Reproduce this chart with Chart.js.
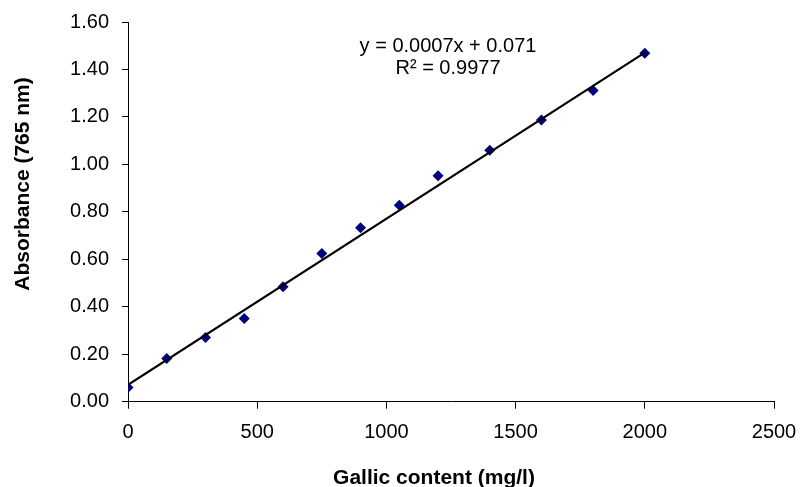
<!DOCTYPE html>
<html>
<head>
<meta charset="utf-8">
<title>Gallic acid calibration</title>
<script src="https://cdn.jsdelivr.net/npm/chart.js@4/dist/chart.umd.min.js"></script>
<style>
    html, body { margin: 0; padding: 0; background: #fff; }
    #wrap { width: 801px; height: 487px; }
</style>
</head>
<body>
<div id="wrap"><canvas id="calibChart" width="801" height="487"></canvas></div>
<script>
// Standard concentrations (mg/l) and measured absorbance at 765 nm
const concentrations = [0, 150, 300, 450, 600, 750, 900, 1050, 1200, 1400, 1600, 1800, 2000];
const absorbance = [0.060, 0.182, 0.271, 0.351, 0.484, 0.625, 0.733, 0.828, 0.952, 1.060, 1.187, 1.311, 1.468];

// Linear fit as reported on the chart
const slope = 0.0007;
const intercept = 0.071;
const rSquared = 0.9977;

const xTicks = [0, 500, 1000, 1500, 2000, 2500];
const yTicks = [0, 0.2, 0.4, 0.6, 0.8, 1.0, 1.2, 1.4, 1.6];

const xTitle = 'Gallic content (mg/l)';
const yTitle = 'Absorbance (765 nm)';

const FONT = 'Arial, "Liberation Sans", sans-serif';

const points = concentrations.map((c, i) => ({ x: c, y: absorbance[i] }));
const xFirst = concentrations[0];
const xLast = concentrations[concentrations.length - 1];
const trend = [
    { x: xFirst, y: slope * xFirst + intercept },
    { x: xLast, y: slope * xLast + intercept }
];

// Axis titles and the regression label, drawn relative to the chart area
const annotations = {
    id: 'annotations',
    afterDraw(chart) {
        const ctx = chart.ctx;
        const area = chart.chartArea;
        ctx.save();
        ctx.fillStyle = '#000';

        ctx.font = '20px ' + FONT;
        ctx.textAlign = 'center';
        ctx.textBaseline = 'middle';
        ctx.fillText('y = ' + slope + 'x + ' + intercept, area.left + 320, area.top + 24);
        ctx.fillText('R² = ' + rSquared, area.left + 320, area.top + 46);

        ctx.font = 'bold 21px ' + FONT;
        ctx.textBaseline = 'alphabetic';
        ctx.fillText(xTitle, area.left + 306, 484);

        ctx.translate(28.5, area.top + 162);
        ctx.rotate(-Math.PI / 2);
        ctx.fillText(yTitle, 0, 0);
        ctx.restore();
    }
};

const ctx = document.getElementById('calibChart').getContext('2d');

new Chart(ctx, {
    type: 'scatter',
    data: {
        datasets: [
            {
                label: 'Linear fit',
                type: 'line',
                data: trend,
                borderColor: '#000',
                borderWidth: 2.2,
                pointRadius: 0,
                fill: false
            },
            {
                label: 'Absorbance',
                data: points,
                pointStyle: 'rectRot',
                pointRadius: 5.5,
                backgroundColor: '#00007f',
                borderColor: '#00007f',
                borderWidth: 0
            }
        ]
    },
    options: {
        responsive: false,
        animation: false,
        layout: {
            padding: { top: 22, right: 27, bottom: 0, left: 0 }
        },
        plugins: {
            legend: { display: false },
            tooltip: { enabled: false }
        },
        scales: {
            x: {
                type: 'linear',
                min: xTicks[0],
                max: xTicks[xTicks.length - 1],
                afterBuildTicks: (scale) => {
                    scale.ticks = xTicks.map(v => ({ value: v }));
                },
                afterFit: (scale) => {
                    scale.height = 85.3;
                    scale.paddingLeft = 0;
                    scale.paddingRight = 0;
                },
                grid: {
                    drawOnChartArea: false,
                    drawTicks: true,
                    tickLength: 7,
                    color: '#000'
                },
                border: { color: '#000', width: 1 },
                ticks: {
                    color: '#000',
                    padding: 12,
                    font: { family: FONT, size: 20 },
                    callback: (v) => String(v)
                }
            },
            y: {
                type: 'linear',
                min: yTicks[0],
                max: yTicks[yTicks.length - 1],
                afterBuildTicks: (scale) => {
                    scale.ticks = yTicks.map(v => ({ value: v }));
                },
                afterFit: (scale) => {
                    scale.width = 128;
                    scale.paddingTop = 0;
                    scale.paddingBottom = 0;
                },
                grid: {
                    drawOnChartArea: false,
                    drawTicks: true,
                    tickLength: 6,
                    color: '#000'
                },
                border: { color: '#000', width: 1 },
                ticks: {
                    color: '#000',
                    padding: 13,
                    font: { family: FONT, size: 20 },
                    callback: (v) => Number(v).toFixed(2)
                }
            }
        }
    },
    plugins: [annotations]
});
</script>
</body>
</html>
